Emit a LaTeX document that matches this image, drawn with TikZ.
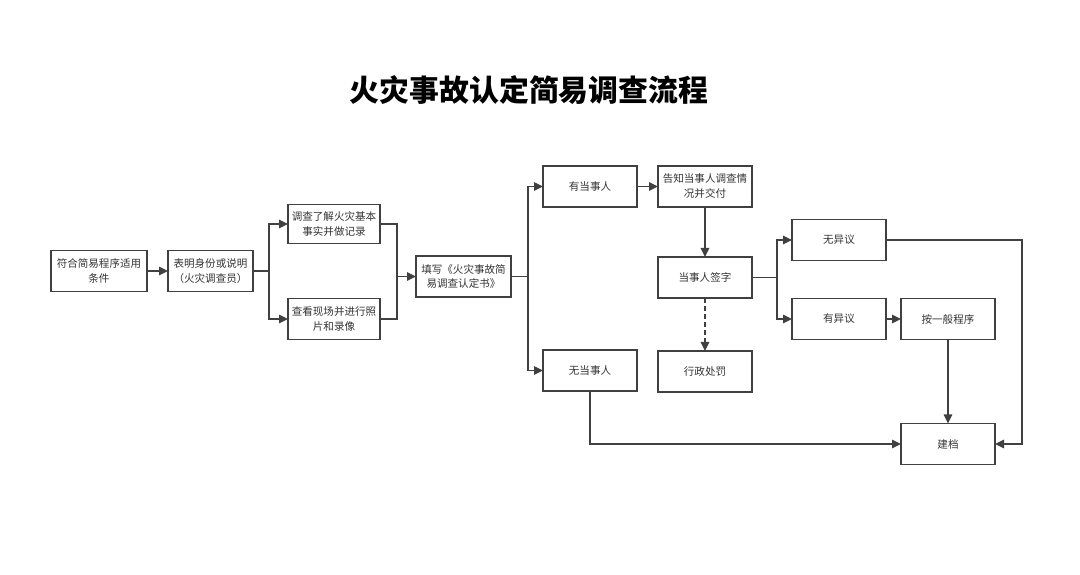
\documentclass[tikz,border=0pt]{standalone}
\usepackage{fontspec}
\newfontfamily\cjk{Noto Sans CJK SC}
\usetikzlibrary{positioning,arrows.meta}
\tikzset{
    module/.style={%
        draw=black!75, line width=0.7pt,
        minimum width=#1,
        minimum height=8.2mm,
        align=center, inner sep=1pt, outer sep=0pt,
        font=\cjk\fontsize{6}{8.5}\selectfont
    },
    module/.default=1.88cm,
    link/.style={draw=black!75, line width=0.7pt},
    >={Triangle[length=1.8mm,width=1.7mm]}
}

\begin{document}
\begin{tikzpicture}[text=black!80]
    \path[fill=white, use as bounding box] (-1.98,-6.08) rectangle (19.62,5.42);
    \node[text=black, font=\cjk\bfseries\fontsize{17}{20}\selectfont] (T) at (8.6,3.62) {火灾事故认定简易调查流程};

    \node[module=1.92cm] (A) {符合简易程序适用\\条件};
    \node[module=1.7cm, right=0.42cm of A] (B) {表明身份或说明\\（火灾调查员）};
    \node[module=1.84cm, minimum height=7.8mm, above right=0.14cm and 0.7cm of B] (C) {调查了解火灾基本\\事实并做记录};
    \node[module=1.84cm, below right=0.14cm and 0.7cm of B] (D) {查看现场并进行照\\片和录像};
    \node[module=1.9cm, right=3.26cm of B, yshift=-0.11cm] (E) {填写《火灾事故简\\易调查认定书》};
    \node[module, above right=0.98cm and 0.64cm of E] (F) {有当事人};
    \node[module, below right=1.06cm and 0.64cm of E] (J) {无当事人};
    \node[module, right=0.42cm of F] (G) {告知当事人调查情\\况并交付};
    \node[module, below=1cm of G] (H) {当事人签字};
    \node[module, below=1.06cm of H] (I) {行政处罚};
    \node[module, right=0.8cm of H, yshift=0.75cm] (K) {无异议};
    \node[module, below=0.76cm of K] (L) {有异议};
    \node[module, right=0.3cm of L] (M) {按一般程序};
    \node[module, below=1.68cm of M] (N) {建档};

    % branch points
    \coordinate[right=0.32cm of B] (b1);
    \coordinate[left=0.38cm of E] (e1);
    \coordinate[right=0.34cm of E] (e2);
    \coordinate[right=0.5cm of H] (h1);
    \coordinate[right=0.54cm of N] (n1);

    \draw[link, ->] (A) -- (B);
    \draw[link] (B) -- (b1);
    \draw[link, ->] (b1) |- (C);
    \draw[link, ->] (b1) |- (D);
    \draw[link] (C) -| (e1) |- (D);
    \draw[link, ->] (e1) -- (E);
    \draw[link] (E) -- (e2);
    \draw[link, ->] (e2) |- (F);
    \draw[link, ->] (e2) |- (J);
    \draw[link, ->] (F) -- (G);
    \draw[link, ->] (G) -- (H);
    \draw[link, ->, dash pattern=on 1mm off 0.6mm] (H) -- (I);
    \draw[link] (H) -- (h1);
    \draw[link, ->] (h1) |- (K);
    \draw[link, ->] (h1) |- (L);
    \draw[link, ->] (L) -- (M);
    \draw[link, ->] (M) -- (N);
    \draw[link, ->] (K) -| (n1) -- (N);
    \draw[link, ->] (J) |- (N);
\end{tikzpicture}
\end{document}
